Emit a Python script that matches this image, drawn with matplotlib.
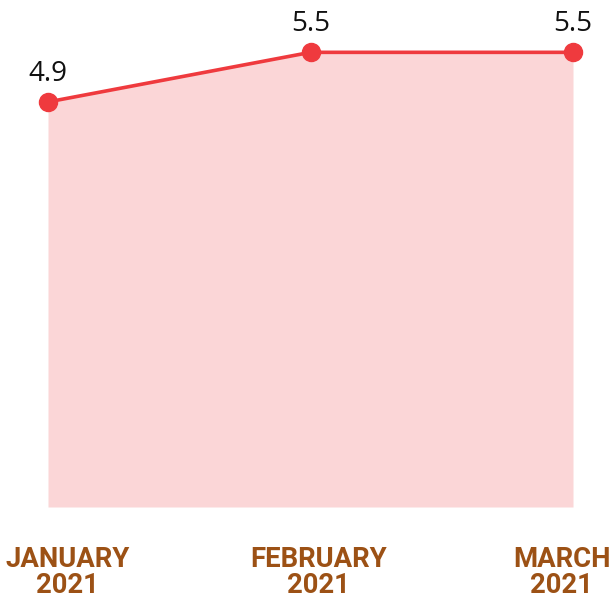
import matplotlib
matplotlib.use("Agg")
import matplotlib.pyplot as plt
import matplotlib.transforms as mtransforms

months = ["JANUARY\n2021", "FEBRUARY\n2021", "MARCH\n2021"]
values = [4.9, 5.5, 5.5]

LINE = "#ef3a3e"
FILL = "#fbd6d7"
BROWN = "#9c5115"

fig = plt.figure(figsize=(6.13, 6.01), dpi=100)
ax = fig.add_axes([48 / 613, 94 / 601, 525 / 613, 496 / 601])

x = list(range(len(months)))
ax.fill_between(x, values, 0, color=FILL, linewidth=0)
ax.plot(x, values, color=LINE, linewidth=2.6, marker="o", markersize=13,
        clip_on=False, zorder=3)

for xi, v in zip(x, values):
    ax.annotate(f"{v}", (xi, v), xytext=(0, 10), textcoords="offset points",
                ha="center", va="bottom", fontsize=20, family="Open Sans",
                color="#111111")

# month labels below the plot
trans = mtransforms.blended_transform_factory(ax.transData, ax.transAxes)
shifts = [14, 6, -8]
for xi, lab, dx in zip(x, months, shifts):
    ax.annotate(lab, (xi, 0), xycoords=trans, xytext=(dx, -28),
                textcoords="offset points", ha="center", va="top",
                fontsize=19.8, family="Roboto", fontweight="bold",
                color=BROWN, linespacing=0.97, annotation_clip=False)

ax.set_xlim(0, 2)
ax.set_ylim(0, 6.0)
ax.axis("off")

fig.savefig("out.png", dpi=100)
